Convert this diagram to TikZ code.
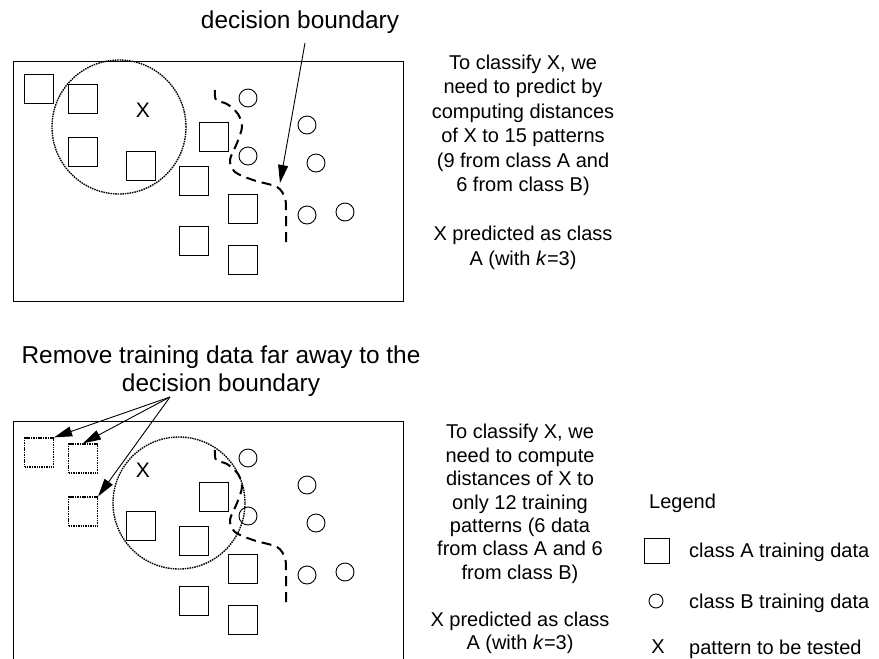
\documentclass[tikz,border=0pt]{standalone}
\usepackage{fontspec}
\setmainfont{Liberation Sans}
\usetikzlibrary{arrows.meta,positioning}

\tikzset{
  sqA/.style={draw, line width=0.9pt, minimum size=29pt, inner sep=0pt},
  sqAgone/.style={sqA, line width=1.3pt, dash pattern=on 1.5pt off 0.9pt},
  dotB/.style={draw, circle, line width=0.9pt, minimum size=18pt, inner sep=0pt},
  reach/.style={line width=1.4pt, dash pattern=on 1.5pt off 0.9pt},
  border/.style={line width=0.9pt},
  boundary/.style={line width=2pt, dash pattern=on 10pt off 6pt},
  pointer/.style={line width=0.9pt, -{Triangle[length=18pt,width=10pt]}},
  note/.style={align=center, inner sep=0pt, font=\fontsize{20}{24.5}\selectfont},
  head/.style={align=center, inner sep=0pt, font=\fontsize{24.4}{28}\selectfont},
}

\begin{document}
\begin{tikzpicture}[x=1pt,y=-1pt]
  \useasboundingbox (0,0) rectangle (879,659);
  % Upper panel: all training data kept.
  \node[head] (dbtitle) at (300,22) {decision boundary};
  \draw[border] (13,61) rectangle (403,301);
  \draw[reach] (119,127) circle (67pt);
  \node[sqA] (a1) at (39,89) {};
  \node[sqA] (a2) at (82.5,98.5) {};
  \node[sqA] (a3) at (82.5,151.5) {};
  \node[sqA] (a4) at (141,165.5) {};
  \node[sqA] (a5) at (213.5,136.5) {};
  \node[sqA] (a6) at (194,180.5) {};
  \node[sqA] (a7) at (242.5,209) {};
  \node[sqA] (a8) at (193.5,240.5) {};
  \node[sqA] (a9) at (242.5,260) {};
  \node[dotB] (b1) at (248,98) {};
  \node[dotB] (b2) at (307,125) {};
  \node[dotB] (b3) at (248,156) {};
  \node[dotB] (b4) at (316,163) {};
  \node[dotB] (b5) at (307,215) {};
  \node[dotB] (b6) at (345,212) {};
  \node[note, font=\fontsize{21}{24}\selectfont] (xtop) at (143,110) {X};
  \draw[boundary] plot[smooth] coordinates {(215,90) (216,100) (227,104) (238,114) (242,127) (237,143) (230,160) (235,172) (253,180) (277,187) (285,198) (286,213) (286,242)};
  \coordinate (dbfrom) at (305,43);
  \coordinate (dbto) at (280,183);
  \draw[pointer] (dbfrom) -- (dbto);
  \node[note] (toptext) at (523,162) {To classify X, we\\need to predict by\\computing distances\\of X to 15 patterns\\(9 from class A and\\6 from class B)\\[24.5pt]X predicted as class\\A (with \textit{k}=3)};
  % Lower panel: far-away training data removed.
  \node[head] (rmtitle) at (221,371) {Remove training data far away to the\\decision boundary};
  \draw[border] (13,659) -- (13,421) -- (403,421) -- (403,659);
  \draw[reach] (179,503) circle (66pt);
  \node[sqAgone] (d1) at (39,452.5) {};
  \node[sqAgone] (d2) at (83,458.5) {};
  \node[sqAgone] (d3) at (83,511.5) {};
  \begin{scope}[yshift=-360pt]
    \node[sqA] (c4) at (141,165.5) {};
    \node[sqA] (c5) at (213.5,136.5) {};
    \node[sqA] (c6) at (194,180.5) {};
    \node[sqA] (c7) at (242.5,209) {};
    \node[sqA] (c8) at (193.5,240.5) {};
    \node[sqA] (c9) at (242.5,260) {};
    \node[dotB] (e1) at (248,98) {};
    \node[dotB] (e2) at (307,125) {};
    \node[dotB] (e3) at (248,156) {};
    \node[dotB] (e4) at (316,163) {};
    \node[dotB] (e5) at (307,215) {};
    \node[dotB] (e6) at (345,212) {};
    \node[note, font=\fontsize{21}{24}\selectfont] (xbot) at (143,110) {X};
    \draw[boundary] plot[smooth] coordinates {(215,90) (216,100) (227,104) (238,114) (242,127) (237,143) (230,160) (235,172) (253,180) (277,187) (285,198) (286,213) (286,242)};
  \end{scope}
  \coordinate (rmfrom) at (170,397);
  \draw[pointer] (rmfrom) -- (d1.north east);
  \draw[pointer] (rmfrom) -- (d2.north);
  \draw[pointer] (rmfrom) -- (d3.north east);
  \node[note, font=\fontsize{20}{23.4}\selectfont] (bottext) at (520,539) {To classify X, we\\need to compute\\distances of X to\\only 12 training\\patterns (6 data\\from class A and 6\\from class B)\\[23.4pt]X predicted as class\\A (with \textit{k}=3)};
  % Legend
  \node[note, anchor=base west] (legend) at (649,508) {Legend};
  \node[sqA, minimum size=25pt] (keyA) at (656.5,550.5) {};
  \node[dotB, minimum size=14pt] (keyB) at (656,601) {};
  \node[note] (keyX) at (658,647) {X};
  \node[note, anchor=base west] (keyAtext) at (689,557) {class A training data};
  \node[note, anchor=base west] (keyBtext) at (689,608) {class B training data};
  \node[note, anchor=base west] (keyXtext) at (689,654) {pattern to be tested};
\end{tikzpicture}
\end{document}
